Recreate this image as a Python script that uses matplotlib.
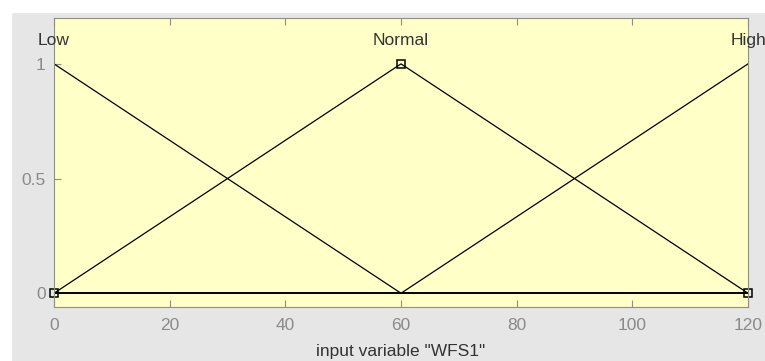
import matplotlib.pyplot as plt
from matplotlib.patches import Rectangle

# funciones de pertenencia (triangulares) de la variable WFS1
low_x = [0, 0, 60]
low_y = [1, 1, 0]
normal_x = [0, 60, 120]
normal_y = [0, 1, 0]
high_x = [60, 120, 120]
high_y = [0, 1, 1]

mf_names = ["Low", "Normal", "High"]
mf_peaks = [0, 60, 120]

x_ticks = [0, 20, 40, 60, 80, 100, 120]
y_ticks = [0, 0.5, 1]
y_tick_labels = ["0", "0.5", "1"]
x_label = 'input variable "WFS1"'


def main():
    plt.rcParams["font.family"] = ["Liberation Sans", "DejaVu Sans"]
    fig = plt.figure(figsize=(7.65, 3.61), dpi=100, facecolor="#e6e6e6")
    # borde blanco arriba e izquierda
    fig.patches.append(Rectangle((0, 1 - 12 / 361), 1, 12 / 361,
                                 transform=fig.transFigure, color="white", zorder=0))
    fig.patches.append(Rectangle((0, 0), 11 / 765, 1,
                                 transform=fig.transFigure, color="white", zorder=0))

    ax = fig.add_axes([54 / 765, 1 - 307 / 361, 694 / 765, 289 / 361])
    ax.set_facecolor("#ffffc8")

    ax.plot(low_x, low_y, color="black", lw=0.9)
    ax.plot(normal_x, normal_y, color="black", lw=0.9)
    ax.plot(high_x, high_y, color="black", lw=0.9)
    # linea base en cero
    ax.plot([x_ticks[0], x_ticks[-1]], [0, 0], color="black", lw=1.4)
    # marcadores cuadrados en los vertices
    ax.plot([normal_x[0], normal_x[1], normal_x[2]], [0, 1, 0], ls="none",
            marker="s", ms=6, mfc="none", mec="black", mew=1.1, clip_on=False)

    for name, px in zip(mf_names, mf_peaks):
        ax.text(px, 1.1, name, ha="center", va="center", fontsize=12.5,
                color="#333333", clip_on=False)

    ax.set_xlim(0, 120)
    ax.set_ylim(-0.06, 1.2)
    ax.set_xticks(x_ticks)
    ax.set_yticks(y_ticks)
    ax.set_yticklabels(y_tick_labels)
    ax.tick_params(direction="in", top=True, right=False, length=5,
                   colors="#909080", labelcolor="#8a8a8a", labelsize=12.5)
    ax.tick_params(axis="x", pad=8)
    ax.tick_params(axis="y", pad=6)
    for s in ax.spines.values():
        s.set_color("#909080")
    ax.set_xlabel(x_label, fontsize=12.5, color="#333333", labelpad=8)

    fig.savefig("out.png", dpi=100, facecolor=fig.get_facecolor())
    plt.close(fig)


if __name__ == "__main__":
    main()
